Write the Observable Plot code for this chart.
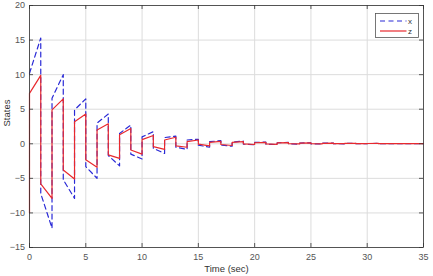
<!DOCTYPE html>
<html>
<head>
<meta charset="utf-8">
<script src="https://cdn.jsdelivr.net/npm/d3@7"></script>
<script src="https://cdn.jsdelivr.net/npm/@observablehq/plot@0.6"></script>
<style>
  html, body { margin: 0; padding: 0; background: #fff; }
  #chart { width: 433px; height: 276px; }
  svg { font-family: "Liberation Sans", Arial, sans-serif; }
</style>
</head>
<body>
<div id="chart"></div>
<script>
// Switching interval index (each interval lasts 1 s)
const intervalStart = [0,1,2,3,4,5,6,7,8,9,10,11,12,13,14,15,16,17,18,19,20,21,22,23,24,25,26,27,28,29,30,31,32,33,34];
// state x: value just after the switch and just before the next switch
const xStart = [10.2,-7.2,6.6,-5.2,4.9,-3.3,3.0,-1.7,1.5,-1.5,1.0,-0.65,0.9,-0.5,0.55,-0.2,0.3,-0.2,0.25,-0.05,0.2,-0.05,0.15,0.0,0.1,0.0,0.08,0.01,0.06,0.01,0.04,0.02,0.03,0.02,0.03];
const xEnd   = [15.3,-12.2,10.0,-7.9,6.5,-5.0,4.3,-3.2,2.7,-2.2,1.75,-1.4,1.1,-0.8,0.65,-0.5,0.45,-0.35,0.4,-0.15,0.25,-0.12,0.2,-0.05,0.15,-0.03,0.1,0.0,0.07,0.01,0.05,0.02,0.04,0.02,0.03];
// state z
const zInit = -10;
const zStart = [7.3,-5.8,4.9,-3.8,3.2,-2.3,2.0,-1.6,1.3,-0.9,0.6,-0.4,0.55,-0.3,0.3,-0.05,0.2,-0.1,0.2,0.0,0.15,0.0,0.12,0.02,0.1,0.02,0.07,0.02,0.05,0.02,0.04,0.02,0.03,0.02,0.03];
const zEnd   = [9.9,-7.9,6.5,-5.1,4.3,-3.4,2.9,-2.1,2.2,-1.5,1.2,-0.8,0.95,-0.5,0.55,-0.3,0.35,-0.25,0.3,-0.1,0.2,-0.08,0.18,-0.02,0.12,0.0,0.09,0.01,0.06,0.02,0.05,0.02,0.04,0.02,0.03];

const seriesNames = ["x", "z"];
const seriesColors = ["#2a2ad6", "#e8292e"];
const xTicks = [0, 5, 10, 15, 20, 25, 30, 35];
const yTicks = [-15, -10, -5, 0, 5, 10, 15, 20];
const xLabel = "Time (sec)";
const yLabel = "States";

// Build tables
const xData = [];
intervalStart.forEach((k, i) => {
  xData.push({t: k, v: xStart[i]});
  xData.push({t: k + 1, v: xEnd[i]});
});
const zData = [{t: 0, v: zInit}];
intervalStart.forEach((k, i) => {
  zData.push({t: k, v: zStart[i]});
  zData.push({t: k + 1, v: zEnd[i]});
});

const W = 433, H = 276;
const mL = 29, mR = 10, mT = 5, mB = 29;
const pw = W - mL - mR, ph = H - mT - mB;
const tick = 4;
const axisColor = "#555";
const fontTick = 9;

const plot = Plot.plot({
  width: W, height: H,
  marginLeft: mL, marginRight: mR, marginTop: mT, marginBottom: mB,
  x: {domain: [0, 35]},
  y: {domain: [-15, 20]},
  style: {fontFamily: '"Liberation Sans", Arial, sans-serif', fontSize: fontTick + "px", color: axisColor, background: "#fff"},
  marks: [
    Plot.gridX(xTicks, {stroke: "#dcdcdc", strokeOpacity: 1}),
    Plot.gridY(yTicks, {stroke: "#dcdcdc", strokeOpacity: 1}),
    Plot.line(xData, {x: "t", y: "v", stroke: seriesColors[0], strokeWidth: 1.2, strokeDasharray: "5,3.5", curve: "linear"}),
    Plot.line(zData, {x: "t", y: "v", stroke: seriesColors[1], strokeWidth: 1.2, curve: "linear"}),
    // inward ticks on all four sides
    Plot.tickX(xTicks, {x: d => d, insetTop: ph - tick, stroke: "#333", strokeWidth: 0.8}),
    Plot.tickX(xTicks, {x: d => d, insetBottom: ph - tick, stroke: "#333", strokeWidth: 0.8}),
    Plot.tickY(yTicks, {y: d => d, insetRight: pw - tick, stroke: "#333", strokeWidth: 0.8}),
    Plot.tickY(yTicks, {y: d => d, insetLeft: pw - tick, stroke: "#333", strokeWidth: 0.8}),
    Plot.frame({stroke: "#333", strokeWidth: 0.8}),
    Plot.axisX(xTicks, {tickSize: 0, tickPadding: 6.5, label: null, fill: axisColor, fontSize: fontTick}),
    Plot.axisY(yTicks, {tickSize: 0, tickPadding: 4.5, label: null, fill: axisColor, fontSize: fontTick}),
    Plot.text([xLabel], {frameAnchor: "bottom", dy: 24, fill: "#333", fontSize: 9.5}),
    Plot.text([yLabel], {frameAnchor: "left", dx: -23, rotate: -90, fill: "#333", fontSize: 9.5})
  ]
});
document.getElementById("chart").appendChild(plot);

// Legend (top-right box, MATLAB style)
const svg = d3.select(plot);
const lg = svg.append("g").attr("transform", "translate(375.5,13.5)");
lg.append("rect").attr("width", 43).attr("height", 24)
  .attr("fill", "#fff").attr("stroke", "#555").attr("stroke-width", 0.8);
seriesNames.forEach((name, i) => {
  const y = 7.5 + i * 10;
  lg.append("line").attr("x1", 4.5).attr("x2", 31).attr("y1", y).attr("y2", y)
    .attr("stroke", seriesColors[i]).attr("stroke-width", 1.2)
    .attr("stroke-dasharray", i === 0 ? "5,3.5" : null);
  lg.append("text").attr("x", 34.5).attr("y", y).attr("dy", "0.32em")
    .attr("font-size", 8).attr("fill", "#333").text(name);
});
</script>
</body>
</html>
